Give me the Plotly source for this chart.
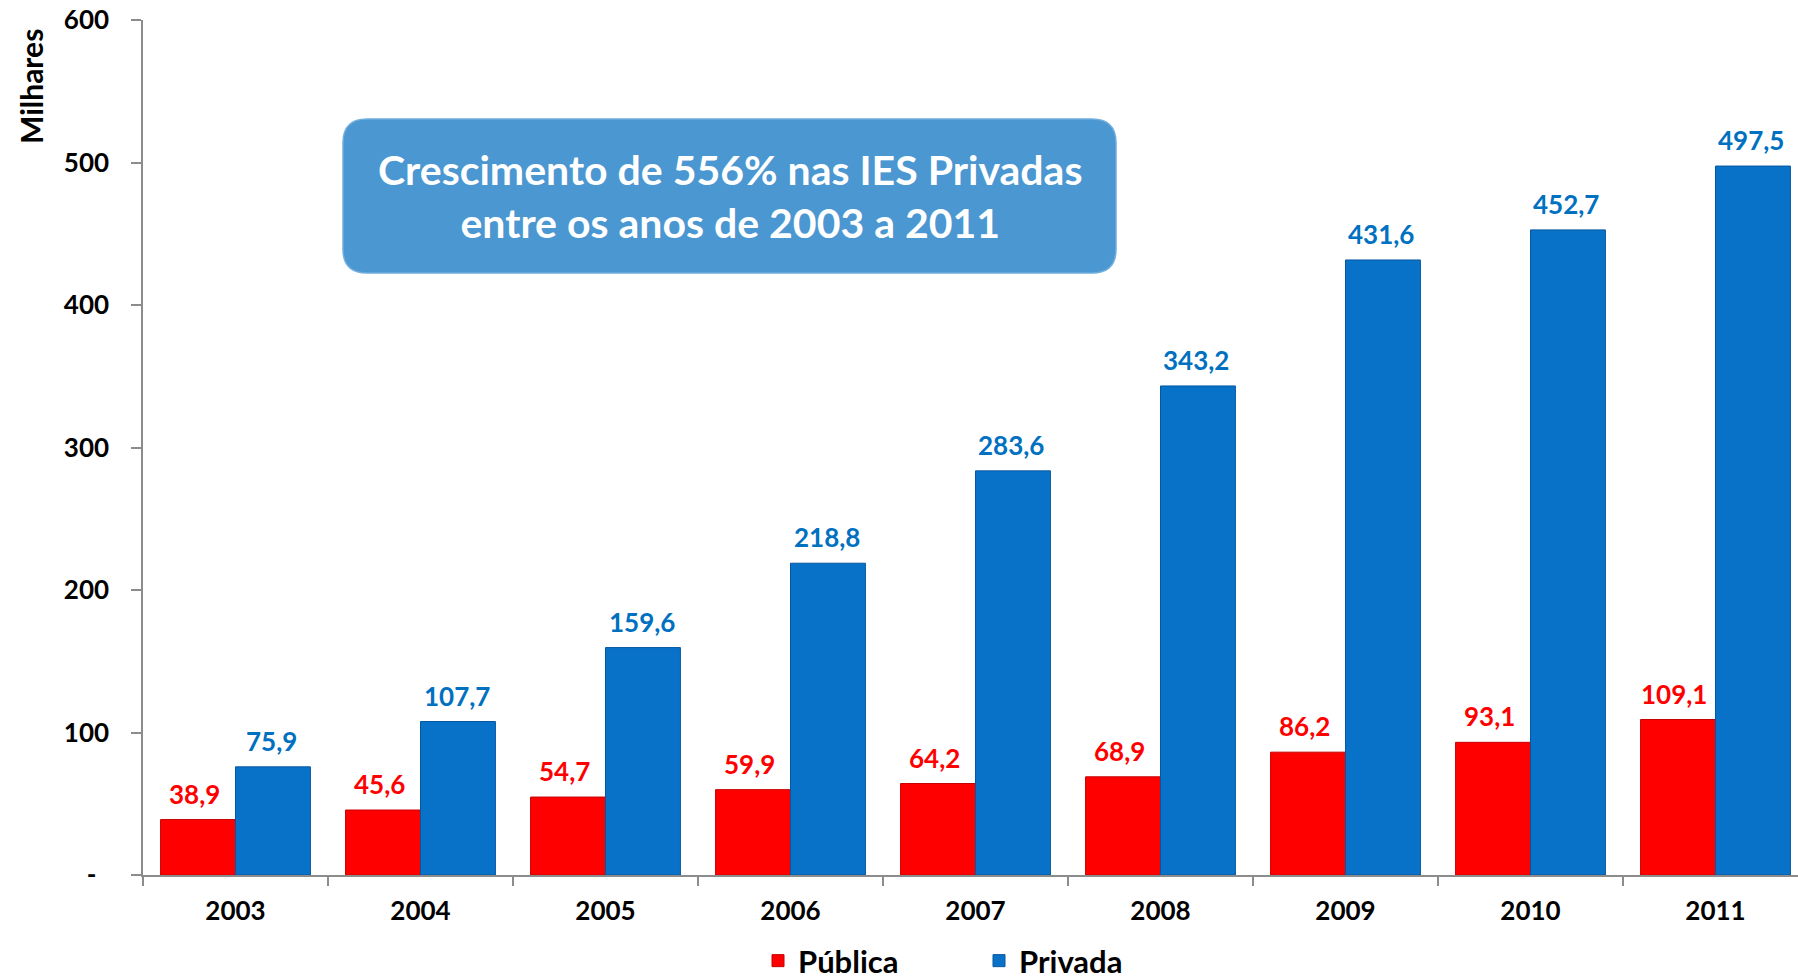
import plotly.graph_objects as go

# ---- data ----
years = ["2003", "2004", "2005", "2006", "2007", "2008", "2009", "2010", "2011"]
publica = [38.9, 45.6, 54.7, 59.9, 64.2, 68.9, 86.2, 93.1, 109.1]
privada = [75.9, 107.7, 159.6, 218.8, 283.6, 343.2, 431.6, 452.7, 497.5]
y_tickvals = [0, 100, 200, 300, 400, 500, 600]
y_ticktext = ["-\u00a0\u00a0", "100", "200", "300", "400", "500", "600"]
box_text = "Crescimento de 556% nas IES Privadas<br>entre os anos de 2003 a 2011"

RED = "#FF0000"
BLUE = "#0872C8"
RED_TXT = "#FF0000"
BLUE_TXT = "#0070C0"
FONT = "Lato"

W, H = 1798, 980
# plot-area edges in screen pixels
L, R, T, B = 143, 1798, 20, 875


def px2x(px):
    return (px - L) / (R - L)


def py2y(py):
    return (B - py) / (B - T)


fig = go.Figure()
fig.add_trace(go.Bar(
    x=years, y=publica, name="Pública",
    marker=dict(color=RED, line=dict(color="#C80000", width=1)),
))
fig.add_trace(go.Bar(
    x=years, y=privada, name="Privada",
    marker=dict(color=BLUE, line=dict(color="#0558A0", width=1)),
))

annotations = []
for i, v in enumerate(publica):
    annotations.append(dict(
        x=i, y=v, xref="x", yref="y", xshift=-41, yshift=8,
        text=f"{v:.1f}".replace(".", ","), showarrow=False,
        yanchor="bottom", xanchor="center",
        font=dict(family=FONT, size=26, color=RED_TXT, weight="bold"),
    ))
for i, v in enumerate(privada):
    annotations.append(dict(
        x=i, y=v, xref="x", yref="y", xshift=36, yshift=8,
        text=f"{v:.1f}".replace(".", ","), showarrow=False,
        yanchor="bottom", xanchor="center",
        font=dict(family=FONT, size=26, color=BLUE_TXT, weight="bold"),
    ))

# y-axis title "Milhares" placed near the top, rotated
annotations.append(dict(
    x=px2x(31), y=py2y(87), xref="paper", yref="paper",
    text="Milhares", textangle=-90, showarrow=False,
    xanchor="center", yanchor="middle",
    font=dict(family=FONT, size=30, color="black", weight="bold"),
))

# callout box text
bx0, by0, bx1, by1 = 343, 119, 1116, 273
annotations.append(dict(
    x=px2x((bx0 + bx1) / 2), y=py2y((by0 + by1) / 2), xref="paper", yref="paper",
    text=box_text, showarrow=False, xanchor="center", yanchor="middle",
    align="center",
    font=dict(family=FONT, size=41, color="white", weight="bold"),
))

# rounded rectangle path in paper coords
rad = 24


def P(px, py):
    return f"{px2x(px):.5f},{py2y(py):.5f}"


path = (
    f"M {P(bx0 + rad, by0)} L {P(bx1 - rad, by0)} Q {P(bx1, by0)} {P(bx1, by0 + rad)} "
    f"L {P(bx1, by1 - rad)} Q {P(bx1, by1)} {P(bx1 - rad, by1)} "
    f"L {P(bx0 + rad, by1)} Q {P(bx0, by1)} {P(bx0, by1 - rad)} "
    f"L {P(bx0, by0 + rad)} Q {P(bx0, by0)} {P(bx0 + rad, by0)} Z"
)
shapes = [dict(type="path", path=path, xref="paper", yref="paper",
               fillcolor="#4A97D1", line=dict(color="#6EADDD", width=1.5),
               layer="above")]

fig.update_layout(
    width=W, height=H,
    margin=dict(l=L, r=W - R, t=T, b=H - B, pad=0, autoexpand=False),
    paper_bgcolor="white", plot_bgcolor="white",
    barmode="group", bargap=0.19, bargroupgap=0,
    font=dict(family=FONT, color="black", weight="bold"),
    separators=",.",
    showlegend=True,
    legend=dict(
        orientation="h", x=px2x(758), xanchor="left", y=py2y(961), yanchor="middle",
        font=dict(family=FONT, size=31, color="black", weight="bold"),
        itemwidth=30, entrywidth=176, bgcolor="rgba(0,0,0,0)",
    ),
    xaxis=dict(
        type="category", range=[-0.5, 8.446], automargin=False,
        showline=True, linecolor="#8C8C8C", linewidth=1.5,
        ticks="outside", tickson="boundaries", ticklen=9, tickcolor="#8C8C8C",
        tickwidth=1.5,
        tickfont=dict(family=FONT, size=26, color="black", weight="bold"),
        ticklabelstandoff=12, ticklabeloverflow="allow",
        showgrid=False, zeroline=False, fixedrange=True,
    ),
    yaxis=dict(
        range=[0, 600], tickvals=y_tickvals, ticktext=y_ticktext, automargin=False,
        showline=True, linecolor="#8C8C8C", linewidth=1.5,
        ticks="outside", ticklen=10, tickcolor="#8C8C8C", tickwidth=1.5,
        tickfont=dict(family=FONT, size=26, color="black", weight="bold"),
        ticklabelstandoff=17, ticklabeloverflow="allow",
        showgrid=False, zeroline=False, fixedrange=True,
    ),
    annotations=annotations,
    shapes=shapes,
)

# remove the default page margin so the figure sits at the window's corner
fig.write_html("out.html", config={"displayModeBar": False},
               post_script="document.body.style.margin='0';")
